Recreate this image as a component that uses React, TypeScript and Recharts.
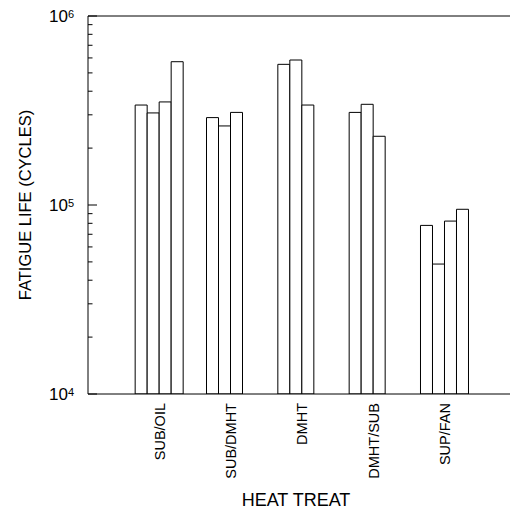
import React from 'react';
import { BarChart, Bar, XAxis, YAxis, ReferenceLine } from 'recharts';

const categories = ['SUB/OIL', 'SUB/DMHT', 'DMHT', 'DMHT/SUB', 'SUP/FAN'];
const series1 = [338000, 290000, 555000, 309000, 78000];
const series2 = [307000, 262000, 585000, 341000, 48700];
const series3 = [351000, 309000, 338000, 231000, 82200];
const series4: (number | null)[] = [573000, null, null, null, 94900];
const yTicks = [
  10000, 20000, 30000, 40000, 50000, 60000, 70000, 80000, 90000,
  100000, 200000, 300000, 400000, 500000, 600000, 700000, 800000, 900000,
  1000000,
];
const decadeLabels: Record<number, string> = { 10000: '4', 100000: '5', 1000000: '6' };

const data = categories.map((name, i) => ({
  name,
  a: series1[i],
  b: series2[i],
  c: series3[i],
  d: series4[i],
}));

const FONT = '"Liberation Sans", Arial, Helvetica, sans-serif';

const LeftTick = (props: any) => {
  const { x, y, payload } = props;
  const v = payload.value;
  const exp = decadeLabels[v];
  const major = exp !== undefined;
  return (
    <g>
      <line x1={x} y1={y} x2={x + (major ? 9 : 4.5)} y2={y} stroke="#000" strokeWidth={1} />
      {major && (
        <text x={x - 14} y={y} dy={6} textAnchor="end" fontFamily={FONT} fontSize={17} fill="#000">
          <tspan>10</tspan>
          <tspan dy={-4.5} fontSize={11}>{exp}</tspan>
        </text>
      )}
    </g>
  );
};

const CatTick = (props: any) => {
  const { x, y, payload } = props;
  return (
    <text
      x={x}
      y={y + 9}
      transform={`rotate(-90, ${x}, ${y + 9})`}
      textAnchor="end"
      dy="0.36em"
      fontFamily={FONT}
      fontSize={14.5}
      fill="#000"
    >
      {payload.value}
    </text>
  );
};

export default function App() {
  return (
    <div style={{ position: 'absolute', left: 0, top: 0, width: 510, height: 512, overflow: 'hidden', background: '#fff' }}>
      <BarChart
        width={530}
        height={512}
        data={data}
        margin={{ top: 16, right: 14, bottom: 117, left: 87 }}
        barCategoryGap={11.5}
        barGap={0}
      >
        <XAxis
          dataKey="name"
          type="category"
          height={1}
          padding={{ left: 35.67, right: 35.67 }}
          axisLine={{ stroke: '#000', strokeWidth: 1 }}
          tickLine={false}
          tickSize={0}
          tickMargin={0}
          tick={<CatTick />}
          interval={0}
        />
        <YAxis
          yAxisId="l"
          orientation="left"
          width={1}
          type="number"
          scale="log"
          domain={[10000, 1000000]}
          allowDataOverflow
          ticks={yTicks}
          interval={0}
          axisLine={{ stroke: '#000', strokeWidth: 1 }}
          tickLine={false}
          tickSize={0}
          tickMargin={0}
          tick={<LeftTick />}
        />
        <ReferenceLine yAxisId="l" y={1000000} stroke="#000" strokeWidth={1} />
        <Bar yAxisId="l" dataKey="a" fill="#fff" stroke="#000" strokeWidth={1} isAnimationActive={false} />
        <Bar yAxisId="l" dataKey="b" fill="#fff" stroke="#000" strokeWidth={1} isAnimationActive={false} />
        <Bar yAxisId="l" dataKey="c" fill="#fff" stroke="#000" strokeWidth={1} isAnimationActive={false} />
        <Bar yAxisId="l" dataKey="d" fill="#fff" stroke="#000" strokeWidth={1} isAnimationActive={false} />
      </BarChart>
      <svg width={510} height={512} style={{ position: 'absolute', left: 0, top: 0, pointerEvents: 'none' }}>
        <text
          x={25.5}
          y={205}
          transform="rotate(-90, 25.5, 205)"
          textAnchor="middle"
          dy="0.36em"
          fontFamily={FONT}
          fontSize={16.5}
          fill="#000"
        >
          FATIGUE LIFE (CYCLES)
        </text>
        <text x={296} y={506} textAnchor="middle" fontFamily={FONT} fontSize={18} fill="#000">
          HEAT TREAT
        </text>
      </svg>
    </div>
  );
}
